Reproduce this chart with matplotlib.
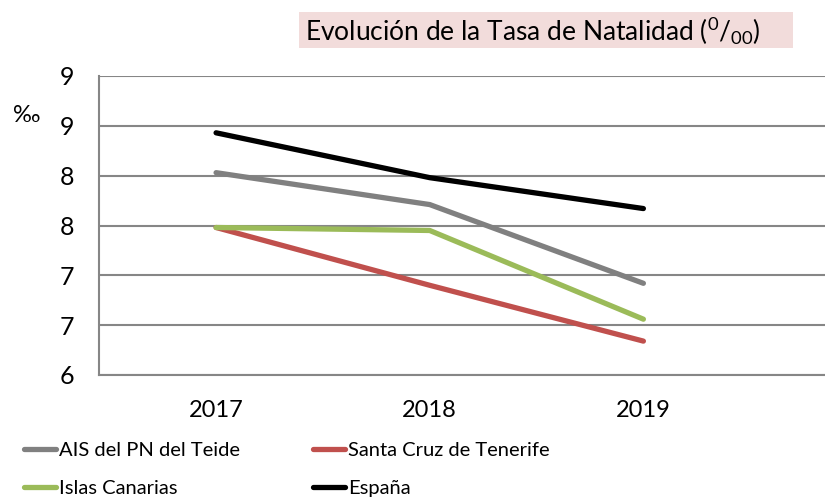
import matplotlib
matplotlib.use("Agg")
from matplotlib import pyplot as plt
from matplotlib.patches import Rectangle

# data
years = ["2017", "2018", "2019"]
ais_teide = [8.03, 7.71, 6.92]
santa_cruz = [7.48, 6.90, 6.34]
islas_canarias = [7.48, 7.45, 6.56]
espana = [8.43, 7.98, 7.67]

y_ticks = [6.0, 6.5, 7.0, 7.5, 8.0, 8.5, 9.0]
y_tick_labels = ["6", "7", "7", "8", "8", "9", "9"]

plt.rcParams['font.family'] = ['Lato', 'DejaVu Sans']
plt.rcParams['mathtext.fontset'] = 'custom'
plt.rcParams['mathtext.rm'] = 'Lato'
plt.rcParams['mathtext.default'] = 'regular'

fig = plt.figure(figsize=(8.25, 4.99), dpi=100)
ax = fig.add_axes([99 / 825, 1 - 375 / 499, 1 - 99 / 825, 299 / 499])

x = range(len(years))
lw = 3.8
l_ais, = ax.plot(x, ais_teide, color="#808080", lw=lw, solid_capstyle="round", label="AIS del PN del Teide")
l_sc, = ax.plot(x, santa_cruz, color="#c0504d", lw=lw, solid_capstyle="round", label="Santa Cruz de Tenerife")
l_ic, = ax.plot(x, islas_canarias, color="#9bbb59", lw=lw, solid_capstyle="round", label="Islas Canarias")
l_es, = ax.plot(x, espana, color="black", lw=lw, solid_capstyle="round", label="España")

ax.set_ylim(6, 9)
ax.set_xlim(-0.548, 2.85)
ax.set_yticks(y_ticks)
ax.set_yticklabels(y_tick_labels)
ax.set_xticks(list(x))
ax.set_xticklabels(years)
ax.tick_params(axis="y", length=0, pad=18, labelsize=18)
ax.tick_params(axis="x", length=0, pad=18, labelsize=17)
ax.grid(axis="y", color="#868686", lw=1.5)
ax.set_axisbelow(True)
for side in ["top", "right"]:
    ax.spines[side].set_visible(False)
for side in ["left", "bottom"]:
    ax.spines[side].set_color("#868686")
    ax.spines[side].set_linewidth(1.5)

# title in a pink box
fig.patches.append(Rectangle((299 / 825, 1 - 48 / 499), 494 / 825, 36 / 499,
                             transform=fig.transFigure, fc="#f2dcdb", ec="none", zorder=0))
fig.text(305 / 825, 1 - 31 / 499, r"Evolución de la Tasa de Natalidad ($^{0}$/$_{00}$)",
         fontsize=19, ha="left", va="center")

fig.text(13 / 825, 1 - 115 / 499, "‰", fontsize=17, ha="left", va="center")

# legend fills column-wise, so order gives rows AIS/Santa Cruz and Islas/España
handles = [l_ais, l_ic, l_sc, l_es]
fig.legend(handles, [h.get_label() for h in handles], ncol=2, loc="lower left",
           bbox_to_anchor=(22 / 825, 0.0), borderpad=0.0, borderaxespad=0.1,
           frameon=False, fontsize=14.5, handlelength=1.6, handletextpad=0.15,
           columnspacing=3.6, labelspacing=1.05)

fig.savefig("out.png", dpi=100)
